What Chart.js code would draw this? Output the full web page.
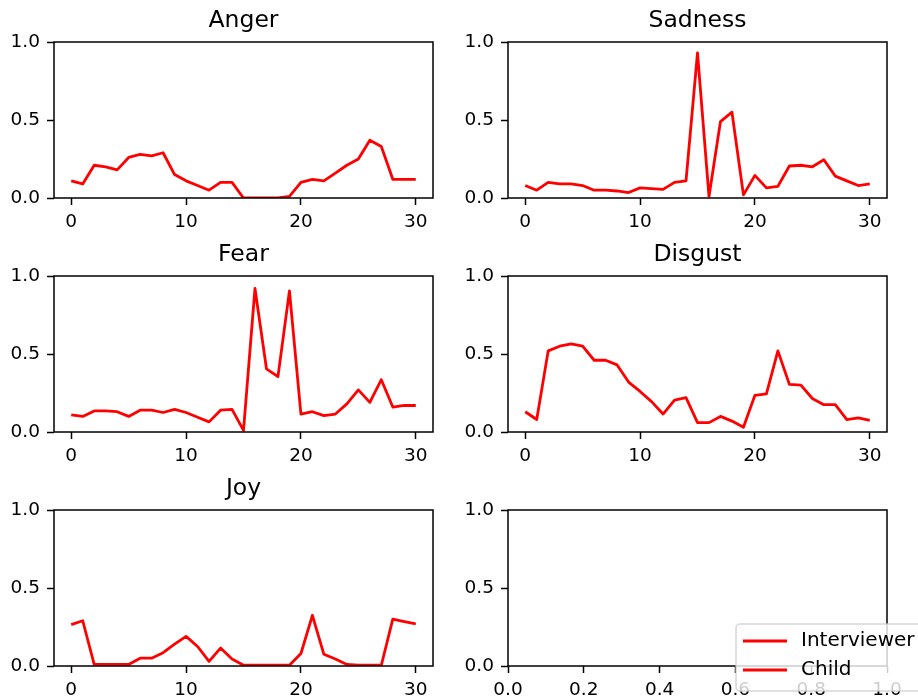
<!DOCTYPE html>
<html>
<head>
<meta charset="utf-8">
<script src="https://cdn.jsdelivr.net/npm/chart.js@4/dist/chart.umd.min.js"></script>
<style>
  html, body { margin: 0; padding: 0; background: #ffffff; }
  body { width: 918px; height: 698px; position: relative; overflow: hidden; }
  canvas { position: absolute; }
</style>
</head>
<body>
<script>
// Time steps along the conversation
const steps = [0, 1, 2, 3, 4, 5, 6, 7, 8, 9, 10, 11, 12, 13, 14, 15, 16, 17, 18, 19, 20, 21, 22, 23, 24, 25, 26, 27, 28, 29, 30];

// Emotion scores per step (interviewer)
const anger   = [0.11, 0.09, 0.21, 0.20, 0.18, 0.26, 0.28, 0.27, 0.29, 0.15, 0.11, 0.08, 0.05, 0.10, 0.10, 0.00, 0.00, 0.00, 0.00, 0.01, 0.10, 0.12, 0.11, 0.16, 0.21, 0.25, 0.37, 0.33, 0.12, 0.12, 0.12];
const sadness = [0.08, 0.05, 0.10, 0.09, 0.09, 0.08, 0.05, 0.05, 0.045, 0.035, 0.065, 0.06, 0.055, 0.10, 0.11, 0.93, 0.01, 0.49, 0.55, 0.02, 0.145, 0.065, 0.075, 0.205, 0.21, 0.20, 0.245, 0.14, 0.11, 0.08, 0.09];
const fear    = [0.11, 0.10, 0.135, 0.135, 0.13, 0.10, 0.14, 0.14, 0.125, 0.145, 0.125, 0.095, 0.065, 0.14, 0.145, 0.01, 0.92, 0.405, 0.355, 0.905, 0.115, 0.13, 0.105, 0.115, 0.18, 0.27, 0.19, 0.335, 0.16, 0.17, 0.17];
const disgust = [0.13, 0.08, 0.52, 0.55, 0.565, 0.55, 0.46, 0.46, 0.43, 0.32, 0.26, 0.195, 0.115, 0.205, 0.22, 0.06, 0.06, 0.10, 0.07, 0.03, 0.235, 0.245, 0.52, 0.305, 0.30, 0.215, 0.175, 0.175, 0.08, 0.09, 0.075];
const joy     = [0.265, 0.29, 0.01, 0.01, 0.01, 0.01, 0.05, 0.05, 0.085, 0.14, 0.19, 0.125, 0.03, 0.115, 0.045, 0.005, 0.005, 0.005, 0.005, 0.005, 0.08, 0.325, 0.075, 0.045, 0.01, 0.005, 0.005, 0.005, 0.30, 0.285, 0.27];

const emotionNames = ['Anger', 'Sadness', 'Fear', 'Disgust', 'Joy'];
const seriesNames = ['Interviewer', 'Child'];

// Tick values and labels
const stepTicks = [0, 10, 20, 30];
const stepTickLabels = ['0', '10', '20', '30'];
const scoreTicks = [0, 0.5, 1];
const scoreTickLabels = ['0.0', '0.5', '1.0'];
const unitTicks = [0, 0.2, 0.4, 0.6, 0.8, 1];
const unitTickLabels = ['0.0', '0.2', '0.4', '0.6', '0.8', '1.0'];

// ---- layout of the 3 x 2 grid ----
const colLeft = [54, 508];
const rowTop = [42, 276, 510];
const plotW = 379, plotH = 156;
const padL = 54, padT = 42, padR = 31, padB = 50;

const FONT = "'DejaVu Sans', sans-serif";
const RED = '#ff0000';
const TITLE_SIZE = 23.5;
const TITLE_LH = TITLE_SIZE * 1.2;
const TITLE_PAD_TOP = 6.9;

// Box around each axes, drawn over the data like matplotlib spines
const framePlugin = {
  id: 'frame',
  afterDatasetsDraw(chart) {
    const { ctx, chartArea: a } = chart;
    ctx.save();
    ctx.strokeStyle = '#000000';
    ctx.lineWidth = 1.5;
    ctx.strokeRect(a.left, a.top, a.right - a.left, a.bottom - a.top);
    ctx.restore();
  }
};

// Legend in the lower right corner of the empty axes
const cornerLegend = {
  id: 'cornerLegend',
  afterDraw(chart) {
    const { ctx, chartArea: a } = chart;
    const x = a.left + 228, y = a.top + 114, w = 210, h = 67, r = 4;
    ctx.save();
    ctx.beginPath();
    ctx.moveTo(x + r, y);
    ctx.lineTo(x + w - r, y);
    ctx.arcTo(x + w, y, x + w, y + r, r);
    ctx.lineTo(x + w, y + h - r);
    ctx.arcTo(x + w, y + h, x + w - r, y + h, r);
    ctx.lineTo(x + r, y + h);
    ctx.arcTo(x, y + h, x, y + h - r, r);
    ctx.lineTo(x, y + r);
    ctx.arcTo(x, y, x + r, y, r);
    ctx.closePath();
    ctx.fillStyle = 'rgba(255,255,255,0.8)';
    ctx.fill();
    ctx.strokeStyle = 'rgba(204,204,204,0.8)';
    ctx.lineWidth = 1.5;
    ctx.stroke();

    ctx.font = '20px ' + FONT;
    ctx.textBaseline = 'middle';
    ctx.textAlign = 'left';
    chart.data.datasets.forEach((ds, i) => {
      const ly = y + 17 + i * 29;
      ctx.strokeStyle = ds.borderColor;
      ctx.lineWidth = 2.8;
      ctx.beginPath();
      ctx.moveTo(x + 7, ly);
      ctx.lineTo(x + 51, ly);
      ctx.stroke();
      ctx.fillStyle = '#000000';
      ctx.fillText(ds.label, x + 65, ly);
    });
    ctx.restore();
  }
};

function axisCommon(ticks, labels, pad) {
  return {
    type: 'linear',
    afterBuildTicks: s => { s.ticks = ticks.map(v => ({ value: v })); },
    ticks: {
      autoSkip: false,
      maxRotation: 0,
      padding: pad,
      color: '#000000',
      font: { family: FONT, size: 18.5 },
      callback: (v, i) => labels[i]
    },
    grid: {
      display: true,
      drawOnChartArea: false,
      drawTicks: true,
      tickLength: 7,
      tickColor: '#000000',
      tickWidth: 1.5
    },
    border: { display: false }
  };
}

function makePanel(col, row, title, values, xCfg, extraDatasets) {
  const canvas = document.createElement('canvas');
  const cw = padL + plotW + padR, ch = padT + plotH + padB;
  canvas.width = cw; canvas.height = ch;
  canvas.style.width = cw + 'px'; canvas.style.height = ch + 'px';
  canvas.style.left = (colLeft[col] - padL) + 'px';
  canvas.style.top = (rowTop[row] - padT) + 'px';
  document.body.appendChild(canvas);

  const datasets = values ? [{
    label: seriesNames[0],
    data: steps.map((s, i) => ({ x: s, y: values[i] })),
    borderColor: RED,
    backgroundColor: RED,
    borderWidth: 2.8,
    borderJoinStyle: 'round',
    pointRadius: 0,
    tension: 0,
    fill: false,
    clip: 0
  }] : extraDatasets;

  const xScale = Object.assign(axisCommon(xCfg.ticks, xCfg.labels, 6), {
    position: 'bottom',
    min: xCfg.min, max: xCfg.max,
    afterFit: s => { s.height = padB; }
  });
  const yScale = Object.assign(axisCommon(scoreTicks, scoreTickLabels, 7), {
    position: 'left',
    min: 0, max: 1,
    afterFit: s => { s.width = padL; }
  });

  const plugins = [framePlugin];
  if (!values) plugins.push(cornerLegend);

  return new Chart(canvas, {
    type: 'line',
    data: { datasets },
    options: {
      responsive: false,
      animation: false,
      devicePixelRatio: 1,
      layout: { padding: { left: 0, right: padR, top: title ? 0 : padT, bottom: 0 } },
      scales: { x: xScale, y: yScale },
      plugins: {
        legend: { display: false },
        tooltip: { enabled: false },
        title: {
          display: !!title,
          text: title || '',
          fullSize: false,
          color: '#000000',
          font: { family: FONT, size: TITLE_SIZE, weight: 'normal', lineHeight: 1.2 },
          padding: { top: TITLE_PAD_TOP, bottom: padT - TITLE_PAD_TOP - TITLE_LH }
        }
      }
    },
    plugins
  });
}

const stepAxis = { min: -1.5, max: 31.5, ticks: stepTicks, labels: stepTickLabels };
const unitAxis = { min: 0, max: 1, ticks: unitTicks, labels: unitTickLabels };

const series = [anger, sadness, fear, disgust, joy];
series.forEach((vals, k) => {
  makePanel(k % 2, Math.floor(k / 2), emotionNames[k], vals, stepAxis);
});

// Last cell: empty axes that carries the figure legend
makePanel(1, 2, null, null, unitAxis, seriesNames.map(name => ({
  label: name,
  data: [],
  borderColor: RED,
  backgroundColor: RED,
  borderWidth: 2.8,
  pointRadius: 0
})));
</script>
</body>
</html>
